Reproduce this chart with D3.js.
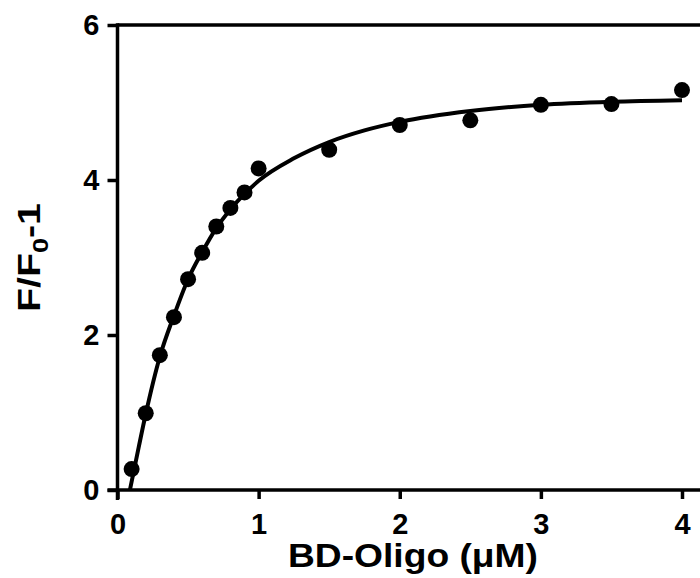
<!DOCTYPE html>
<html>
<head>
<meta charset="utf-8">
<script src="https://cdn.jsdelivr.net/npm/d3@7"></script>
<style>
  body { margin: 0; background: #fff; }
  svg { display: block; font-family: Arial, "Liberation Sans", sans-serif; font-weight: bold; }
</style>
</head>
<body>
<div id="chart"></div>
<script>
// measured points
var conc = [0.1, 0.2, 0.3, 0.4, 0.5, 0.6, 0.7, 0.8, 0.9, 1.0, 1.5, 2.0, 2.5, 3.0, 3.5, 4.0];
var signal = [0.27, 0.99, 1.74, 2.23, 2.72, 3.06, 3.40, 3.64, 3.84, 4.15, 4.39, 4.71, 4.77, 4.97, 4.98, 5.16];

// fitted curve
var fitX = [0.088, 0.15, 0.2, 0.3, 0.4, 0.5, 0.6, 0.7, 0.8, 0.9, 1.0, 1.25, 1.5, 1.75, 2.0, 2.5, 3.0, 3.5, 4.0];
var fitY = [0, 0.55, 0.98, 1.72, 2.25, 2.72, 3.07, 3.38, 3.62, 3.82, 3.99, 4.28, 4.49, 4.64, 4.75, 4.89, 4.97, 5.01, 5.03];

var xTicks = [0, 1, 2, 3, 4];
var yTicks = [0, 2, 4, 6];

var width = 700;
var height = 578;

var x = d3.scaleLinear()
  .domain([0, 4])
  .range([117.5, 682]);

var y = d3.scaleLinear()
  .domain([0, 6])
  .range([490, 25]);

var svg = d3.select("#chart")
  .append("svg")
  .attr("width", width)
  .attr("height", height);

// top frame line
svg.append("line")
  .attr("x1", x(0))
  .attr("x2", width + 5)
  .attr("y1", y(6))
  .attr("y2", y(6))
  .attr("stroke", "#000")
  .attr("stroke-width", 3.5);

var xAxis = svg.append("g")
  .attr("transform", "translate(0," + y(0) + ")")
  .call(d3.axisBottom(x).tickValues(xTicks).tickSize(9).tickPadding(14).tickFormat(d3.format("d")));

xAxis.select(".domain").remove();
xAxis.append("line")
  .attr("x1", x(0) - 10)
  .attr("x2", width + 5)
  .attr("stroke", "#000")
  .attr("stroke-width", 3.5);

var yAxis = svg.append("g")
  .attr("transform", "translate(" + x(0) + ",0)")
  .call(d3.axisLeft(y).tickValues(yTicks).tickSize(10).tickPadding(8).tickFormat(d3.format("d")));

yAxis.select(".domain").remove();
yAxis.append("line")
  .attr("y1", y(6) - 1.75)
  .attr("y2", y(0) + 10)
  .attr("stroke", "#000")
  .attr("stroke-width", 3.5);

svg.selectAll(".tick line")
  .attr("stroke", "#000")
  .attr("stroke-width", 3.5);

svg.selectAll(".tick text")
  .attr("fill", "#000")
  .style("font-size", "29px")
  .style("font-family", "Arial, 'Liberation Sans', sans-serif")
  .style("font-weight", "bold");

// fit curve
var fit = fitX.map(function(d, i) { return [d, fitY[i]]; });

var line = d3.line()
  .x(function(d) { return x(d[0]); })
  .y(function(d) { return y(d[1]); })
  .curve(d3.curveMonotoneX);

svg.append("path")
  .datum(fit)
  .attr("d", line)
  .attr("fill", "none")
  .attr("stroke", "#000")
  .attr("stroke-width", 4);

svg.append("g").selectAll("circle")
  .data(conc)
  .enter().append("circle")
  .attr("cx", function(d) { return x(d); })
  .attr("cy", function(d, i) { return y(signal[i]); })
  .attr("r", 8)
  .attr("fill", "#000");

// axis titles
svg.append("text")
  .attr("x", 288)
  .attr("y", 567)
  .attr("textLength", 250)
  .attr("lengthAdjust", "spacingAndGlyphs")
  .style("font-size", "33px")
  .text("BD-Oligo (\u03BCM)");

var ylab = svg.append("text")
  .attr("transform", "translate(40,312) rotate(-90)")
  .attr("x", 0)
  .attr("y", 0)
  .attr("textLength", 109)
  .attr("lengthAdjust", "spacingAndGlyphs")
  .style("font-size", "32px");

ylab.append("tspan").text("F/F");
ylab.append("tspan").attr("dy", 8).style("font-size", "22px").text("0");
ylab.append("tspan").attr("dy", -8).text("-1");
</script>
</body>
</html>
